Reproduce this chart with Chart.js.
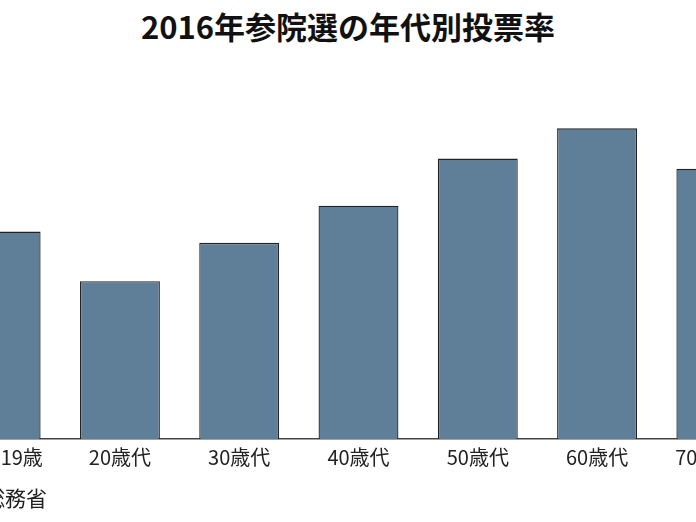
<!DOCTYPE html>
<html lang="ja">
<head>
<meta charset="utf-8">
<script src="https://cdn.jsdelivr.net/npm/chart.js@4"></script>
<style>
  html, body { margin: 0; padding: 0; background: #fff; }
  body { width: 696px; height: 522px; overflow: hidden; position: relative;
         font-family: "Noto Sans CJK JP", "Noto Sans", sans-serif; }
  #title { position: absolute; top: 3px; left: 0; width: 696px; text-align: center;
           font-size: 31px; font-weight: bold; color: #111; }
  #source { position: absolute; top: 482px; right: 649px; white-space: nowrap;
            font-size: 21px; color: #222; }
  #wrap { position: absolute; left: -59px; top: 0; }
</style>
</head>
<body>
<div id="title">2016年参院選の年代別投票率</div>
<div id="wrap"><canvas id="myChart" width="835" height="522"></canvas></div>
<div id="source">出所：総務省</div>
<script>
// age groups and turnout (%)
const ageGroups = ['18・19歳', '20歳代', '30歳代', '40歳代', '50歳代', '60歳代', '70歳以上'];
const turnout = [46.78, 35.60, 44.24, 52.64, 63.25, 70.07, 60.98];

let myChart;

document.addEventListener('DOMContentLoaded', function() {
    const ctx = document.getElementById('myChart');
    myChart = new Chart(ctx, {
        type: 'bar',
        data: {
            labels: ageGroups,
            datasets: [{
                label: '投票率',
                data: turnout,
                backgroundColor: '#5f7e97',
                borderColor: '#222',
                borderWidth: 1.3,
                borderSkipped: 'bottom',
                barPercentage: 0.67,
                categoryPercentage: 1
            }]
        },
        options: {
            responsive: false,
            animation: false,
            layout: { padding: { top: 40, bottom: 43, left: 0, right: 0 } },
            plugins: {
                legend: { display: false },
                tooltip: { enabled: false }
            },
            scales: {
                x: {
                    grid: { display: false, drawTicks: false },
                    border: { display: true, color: '#444', width: 1.5 },
                    ticks: {
                        color: '#222',
                        padding: 6,
                        maxRotation: 0,
                        font: { family: '"Noto Sans CJK JP"', size: 20 }
                    },
                    afterFit: function(scale) { scale.height = 40; }
                },
                y: {
                    display: false,
                    min: 0,
                    max: 90
                }
            }
        }
    });
});
</script>
</body>
</html>
